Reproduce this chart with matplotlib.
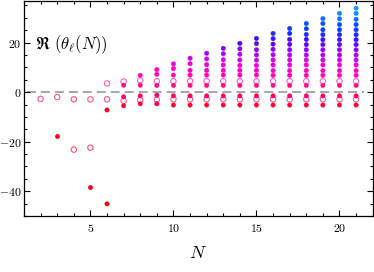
import matplotlib
matplotlib.use("Agg")
import matplotlib.pyplot as plt
import numpy as np
from matplotlib.colors import LinearSegmentedColormap, to_rgb

plt.rcParams['mathtext.fontset'] = 'cm'
plt.rcParams['axes.formatter.use_mathtext'] = True
plt.rcParams['font.family'] = 'serif'
plt.rcParams['font.serif'] = ['cmr10', 'DejaVu Serif']

N_values = list(range(2, 22))

# filled points (Re theta) per N
filled = {
    2: [],
    3: [-17.9],
    4: [],
    5: [-38.2],
    6: [-7.2, -45.1],
    7: [2.8, -1.9, -5.5],
    8: [6.8, 2.8, -1.5, -4.7],
    9: [9.1, 7.2, 2.7, -1.2, -4.7],
    10: [11.4, 9.5, 6.9, 2.7, -1.5, -5.2],
    11: [13.7, 11.5, 8.8, 6.9, 2.7, -1.5, -5.2],
    12: [15.7, 13.4, 11.1, 8.8, 6.9, 2.7, -1.5, -5.2],
    13: [17.7, 15.5, 13.1, 11.0, 8.8, 6.9, 2.7, -1.5, -5.2],
    14: [19.7, 17.5, 15.3, 13.0, 10.8, 8.8, 6.9, 2.7, -1.5, -5.2],
    15: [21.7, 19.6, 17.1, 15.0, 12.9, 10.8, 8.8, 6.9, 2.7, -1.5, -5.2],
    16: [23.7, 21.6, 19.4, 17.3, 15.1, 13.0, 11.0, 8.7, 6.8, 2.7, -1.5, -5.2],
    17: [25.7, 23.7, 21.3, 19.3, 17.1, 15.0, 13.0, 11.0, 8.7, 6.8, 2.7, -1.5, -5.2],
    18: [27.7, 25.6, 23.3, 21.3, 19.2, 17.1, 15.0, 13.0, 11.0, 8.7, 6.8, 2.7, -1.5, -5.2],
    19: [29.7, 27.7, 25.2, 23.2, 21.2, 19.2, 17.1, 15.0, 13.0, 11.0, 8.7, 6.8, 2.7, -1.5, -5.2],
    20: [31.8, 29.6, 27.3, 25.2, 23.2, 21.2, 19.2, 17.1, 15.0, 13.0, 11.0, 8.7, 6.8, 2.7, -1.5, -5.2],
    21: [33.9, 31.8, 29.4, 27.3, 25.2, 23.2, 21.2, 19.2, 17.1, 15.0, 13.0, 11.0, 8.7, 6.8, 2.7, -1.5, -5.2],
}

# open circles per N
opened = {
    2: [-2.7],
    3: [-2.0],
    4: [-2.9, -23.2],
    5: [-2.9, -22.4],
    6: [3.5, -2.9],
    7: [4.3, -3.5],
    8: [4.8, -3.2],
    9: [4.4, -3.0],
    10: [4.4, -2.9],
    11: [4.4, -2.9],
    12: [4.4, -2.9],
    13: [4.4, -2.9],
    14: [4.4, -2.9],
    15: [4.4, -2.9],
    16: [4.4, -2.9],
    17: [4.4, -2.9],
    18: [4.4, -2.9],
    19: [4.4, -2.9],
    20: [4.4, -2.9],
    21: [4.4, -2.9],
}

cmap = LinearSegmentedColormap.from_list("re", [
    (0.00, "#ff0000"),
    (0.49, "#ff0020"),
    (0.55, "#ff0060"),
    (0.63, "#ff10a0"),
    (0.67, "#ff00c0"),
    (0.70, "#f000e0"),
    (0.73, "#d000f0"),
    (0.77, "#9000ff"),
    (0.81, "#5000ff"),
    (0.85, "#1030ff"),
    (0.89, "#0050ff"),
    (0.93, "#1080ff"),
    (1.00, "#22b0ff"),
])
vmin, vmax = -50, 37

def col(v):
    return cmap((v - vmin) / (vmax - vmin))

def light(v):
    c = np.array(to_rgb(col(v)))
    return tuple(c * 0.6 + 0.4 * np.array([1.0, 0.8, 0.9]))

fig = plt.figure(figsize=(3.74, 2.72), dpi=100)
ax = fig.add_axes([24/374, 56/272, 348.7/374, 215.5/272])

ax.hlines(0, 1.18, 21.5, colors="#aaaaaa", linewidth=1.5,
          linestyles=(0, (4.3, 2.4)), zorder=1)

for n in N_values:
    ov = opened[n]
    if ov:
        ax.scatter([n]*len(ov), ov, s=15, facecolors='none',
                   edgecolors=[light(v) for v in ov], linewidths=0.8, zorder=2)
    fv = filled[n]
    if fv:
        ax.scatter([n]*len(fv), fv, s=10, c=[col(v) for v in fv],
                   marker='o', linewidths=0.3, edgecolors=[col(v) for v in fv], zorder=3)

ax.set_xlim(1, 22)
ax.set_ylim(-50, 37)
ax.set_xticks([5, 10, 15, 20])
ax.set_xticks(np.arange(1, 23, 1), minor=True)
ax.set_yticks([-40, -20, 0, 20])
ax.set_yticks(np.arange(-50, 37, 5), minor=True)
ax.tick_params(which='both', direction='in', top=True, right=True,
               labelsize=8.5, width=0.8)
ax.tick_params(axis='y', pad=2)
ax.tick_params(axis='x', pad=4)
ax.tick_params(which='major', length=4)
ax.tick_params(which='minor', length=2.5)
for sp in ax.spines.values():
    sp.set_linewidth(0.9)

ax.set_xlabel(r'$N$', fontsize=13, labelpad=8)
ax.text(0.032, 0.795, r'$\mathfrak{R}\ (\theta_\ell(N))$', transform=ax.transAxes,
        fontsize=12, va='center', ha='left')

fig.savefig("out.png", dpi=100)
